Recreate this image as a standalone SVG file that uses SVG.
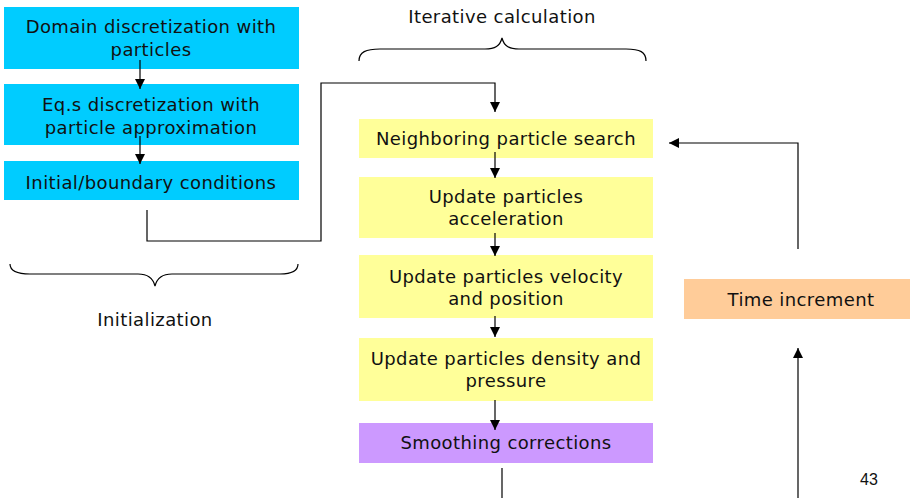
<svg xmlns="http://www.w3.org/2000/svg" width="910" height="498" viewBox="0 0 910 498">
<style>
.t{font-family:"DejaVu Sans",Verdana,sans-serif;font-size:18px;letter-spacing:0.4px;fill:#111;text-anchor:middle}
.c{fill:none;stroke:#000;stroke-width:1.2}
.blue{fill:#00ccff}
.yel{fill:#ffff99}
</style>
<defs>
<marker id="ah" viewBox="0 0 10 10" refX="10" refY="5" markerWidth="10" markerHeight="10" markerUnits="userSpaceOnUse" orient="auto">
<path d="M0,0 L10,5 L0,10 z" fill="#000"/>
</marker>
</defs>
<rect width="910" height="498" fill="#fff"/>
<g id="n1"><rect class="blue" x="4" y="7" width="295" height="62"/><text class="t" x="151" y="33">Domain discretization with</text><text class="t" x="151" y="56">particles</text></g>
<g id="n2"><rect class="blue" x="4" y="84" width="295" height="61"/><text class="t" x="151" y="111">Eq.s discretization with</text><text class="t" x="151" y="134">particle approximation</text></g>
<g id="n3"><rect class="blue" x="4" y="161" width="295" height="39"/><text class="t" x="151" y="189">Initial/boundary conditions</text></g>
<g id="n4"><rect class="yel" x="359" y="119" width="294" height="39"/><text class="t" x="506" y="145">Neighboring particle search</text></g>
<g id="n5"><rect class="yel" x="359" y="177" width="294" height="61"/><text class="t" x="506" y="203">Update particles</text><text class="t" x="506" y="225">acceleration</text></g>
<g id="n6"><rect class="yel" x="359" y="255" width="294" height="63"/><text class="t" x="506" y="283">Update particles velocity</text><text class="t" x="506" y="305">and position</text></g>
<g id="n7"><rect class="yel" x="359" y="338" width="294" height="63"/><text class="t" x="506" y="365">Update particles density and</text><text class="t" x="506" y="387">pressure</text></g>
<g id="n8"><rect fill="#cc99ff" x="359" y="423" width="294" height="40"/><text class="t" x="506" y="449">Smoothing corrections</text></g>
<g id="n9"><rect fill="#ffcc99" x="684" y="279" width="226" height="40"/><text class="t" x="801" y="306">Time increment</text></g>
<g id="labels">
<text class="t" x="502" y="23">Iterative calculation</text>
<text class="t" x="155" y="326">Initialization</text>
<text x="869" y="485" style="font-family:'Liberation Sans',Arial,sans-serif;font-size:16px;fill:#111;text-anchor:middle">43</text>
<path class="c" d="M359,61 C359,52 366,49 380,49 L485,49 C495,49 500,46 502,38 C504,46 509,49 519,49 L626,49 C640,49 646,52 646,61" stroke-width="1"/>
<path class="c" d="M10,264 C10,271 16,274 30,274 L138,274 C148,274 153,278 155,286 C157,278 162,274 172,274 L280,274 C292,274 298,271 298,264" stroke-width="1"/>
</g>
<g id="connectors">
<path class="c" d="M140,60 V89" marker-end="url(#ah)"/>
<path class="c" d="M140,136 V164" marker-end="url(#ah)"/>
<path class="c" d="M147,210 V241 H321 V83 H495 V112" marker-end="url(#ah)"/>
<path class="c" d="M495,152 V178" marker-end="url(#ah)"/>
<path class="c" d="M495,233 V256" marker-end="url(#ah)"/>
<path class="c" d="M495,316 V337" marker-end="url(#ah)"/>
<path class="c" d="M495,400 V430" marker-end="url(#ah)"/>
<path class="c" d="M502,468 V498"/>
<path class="c" d="M798,249 V143 H669" marker-end="url(#ah)"/>
<path class="c" d="M798,498 V348" marker-end="url(#ah)"/>
</g>
</svg>
